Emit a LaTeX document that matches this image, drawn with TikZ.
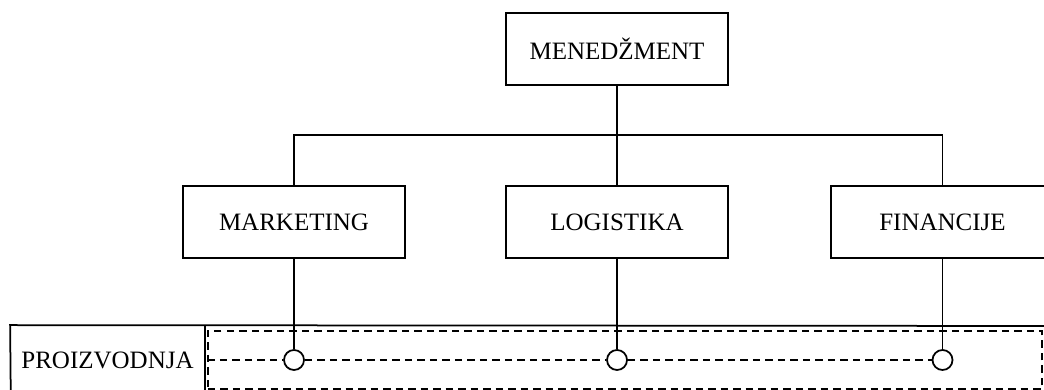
\documentclass[tikz,border=0pt]{standalone}
\usepackage{fontspec}
\setmainfont{Liberation Serif}
\usetikzlibrary{positioning}
\begin{document}
\begin{tikzpicture}[x=0.4pt,y=-0.4pt,node distance=39.5pt,line width=0.7pt,
    unit/.style={draw,minimum width=89pt,minimum height=29pt,inner sep=0pt},
    slot/.style={circle,draw,fill=white,minimum size=8pt,inner sep=0pt},
    trace/.style={line width=0.5pt,dash pattern=on 3pt off 2pt}]
          \useasboundingbox (0,0) rectangle (1044,390);
          \clip (0,0) rectangle (1044,390);

          \node   (mkt) [unit] at (294,222) {MARKETING};
          \node   (log) [unit,right=of mkt] {LOGISTIKA};
          \node   (fin) [unit,right=40.5pt of log] {FINANCIJE};
          \node   (men) [unit,above=of log] {MENEDŽMENT};

          \node   (prod) [minimum width=77.2pt,minimum height=27.2pt,inner sep=0pt] at (107.5,360) {PROIZVODNJA};
          \coordinate (rim) at (1060,326);
          \coordinate (foot) at (11,420);
          \node   (field) [draw,trace,minimum width=333.6pt,minimum height=23.2pt] at (625,360) {};
%          the joints on the production line
          \node   (s1) [slot] at (mkt |- field) {};
          \node   (s2) [slot] at (log |- field) {};
          \node   (s3) [slot] at (fin |- field) {};

          \draw (foot) -- (prod.north west) -- (rim);
          \draw (prod.north east) -- (prod.north east |- foot);
          \draw (men) -- (men |- 0,136);
          \draw (mkt.north) -- ++(0,-50) -| (fin.north);
          \draw (log.north) -- ++(0,-50);
          \draw (mkt) -- (s1);
          \draw (log) -- (s2);
          \draw (fin) -- (s3);
          \draw[trace] (field.west) -- (s1.west)
                       (s1.east) -- (s2.west)
                       (s2.east) -- (s3.west);
        \end{tikzpicture}
\end{document}
